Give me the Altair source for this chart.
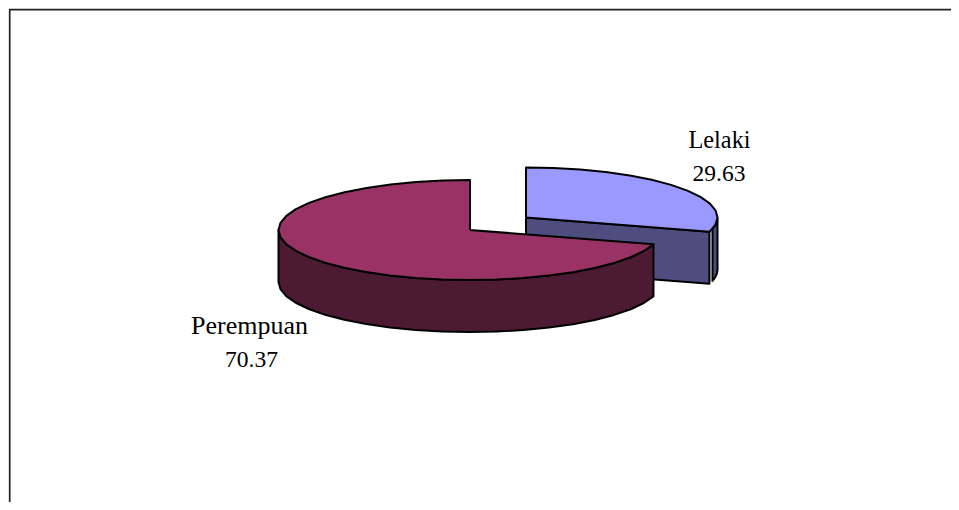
import math
import altair as alt
import pandas as pd

categories = ["Lelaki", "Perempuan"]
values = [29.63, 70.37]
top_colors = ["#9999FF", "#993366"]
side_colors = ["#4D4D80", "#4D1A33"]

W, H = 943, 494
OX, OY = 8, 8
RX, RY, DEPTH = 191.5, 50, 52
centers = {"Lelaki": (526, 217.5), "Perempuan": (470, 230)}

total = sum(values)
a_split = values[0] / total * 360


def ell(c, t, drop=0):
    cx, cy = centers[c]
    r = math.radians(t)
    return (cx + RX * math.sin(r), cy - RY * math.cos(r) + drop)


def arc(c, t0, t1, drop=0, step=8):
    n = max(2, int(abs(t1 - t0) / step) + 1)
    return [ell(c, t0 + (t1 - t0) * i / (n - 1), drop) for i in range(n)]


polys = []


def add(name, fill, pts):
    polys.append((name, fill, pts + [pts[0]]))


L, P = categories
add("L wall", side_colors[0], arc(L, 90, a_split - 3.5, step=4) + arc(L, a_split - 3.5, 90, DEPTH, step=4))
e = ell(L, a_split)
c = centers[L]
add("L cut", side_colors[0], [c, e, (e[0], e[1] + DEPTH), (c[0], c[1] + DEPTH)])
add("L top", top_colors[0], [c] + arc(L, 0, a_split))
add("P wall", side_colors[1], arc(P, a_split, 270) + arc(P, 270, a_split, DEPTH))
add("P top", top_colors[1], [centers[P]] + arc(P, a_split, 360))

rows = []
for name, fill, pts in polys:
    for i, (x, y) in enumerate(pts):
        rows.append({"part": name, "x": x - OX, "y": y - OY, "i": i})
df = pd.DataFrame(rows)

xs = alt.Scale(domain=[0, W], range=[0, W])
ys = alt.Scale(domain=[0, H], range=[0, H])
X = alt.X("x:Q", scale=xs, axis=None)
Y = alt.Y("y:Q", scale=ys, axis=None)

layers = []
for name, fill, _ in polys:
    layers.append(
        alt.Chart(df[df.part == name])
        .mark_line(fill=fill, stroke="black", strokeWidth=2, strokeJoin="round")
        .encode(x=X, y=Y, order="i:Q")
    )

frame = pd.DataFrame({"x": [1.7, 1.7, W], "y": [H, 1.7, 1.7], "i": [0, 1, 2]})
layers.append(
    alt.Chart(frame).mark_line(stroke="#222222", strokeWidth=1.7).encode(x=X, y=Y, order="i:Q")
)

label_sets = [
    (719.5, 141, categories[0], 24.3),
    (719, 174, f"{values[0]:.2f}", 23.5),
    (249.5, 326, categories[1], 26),
    (251.5, 360, f"{values[1]:.2f}", 23.5),
]
for x, y, t, size in label_sets:
    layers.append(
        alt.Chart(pd.DataFrame({"x": [x - OX], "y": [y - OY], "t": [t]}))
        .mark_text(font="Liberation Serif", fontSize=size, color="black", align="center", baseline="middle")
        .encode(x=X, y=Y, text="t:N")
    )

chart = (
    alt.layer(*layers)
    .properties(width=W, height=H, padding=0, background="white",
                autosize=alt.AutoSizeParams(type="none", contains="padding"))
    .configure_view(stroke=None)
)
chart.save("out.html", embed_options={"renderer": "svg", "actions": False})
